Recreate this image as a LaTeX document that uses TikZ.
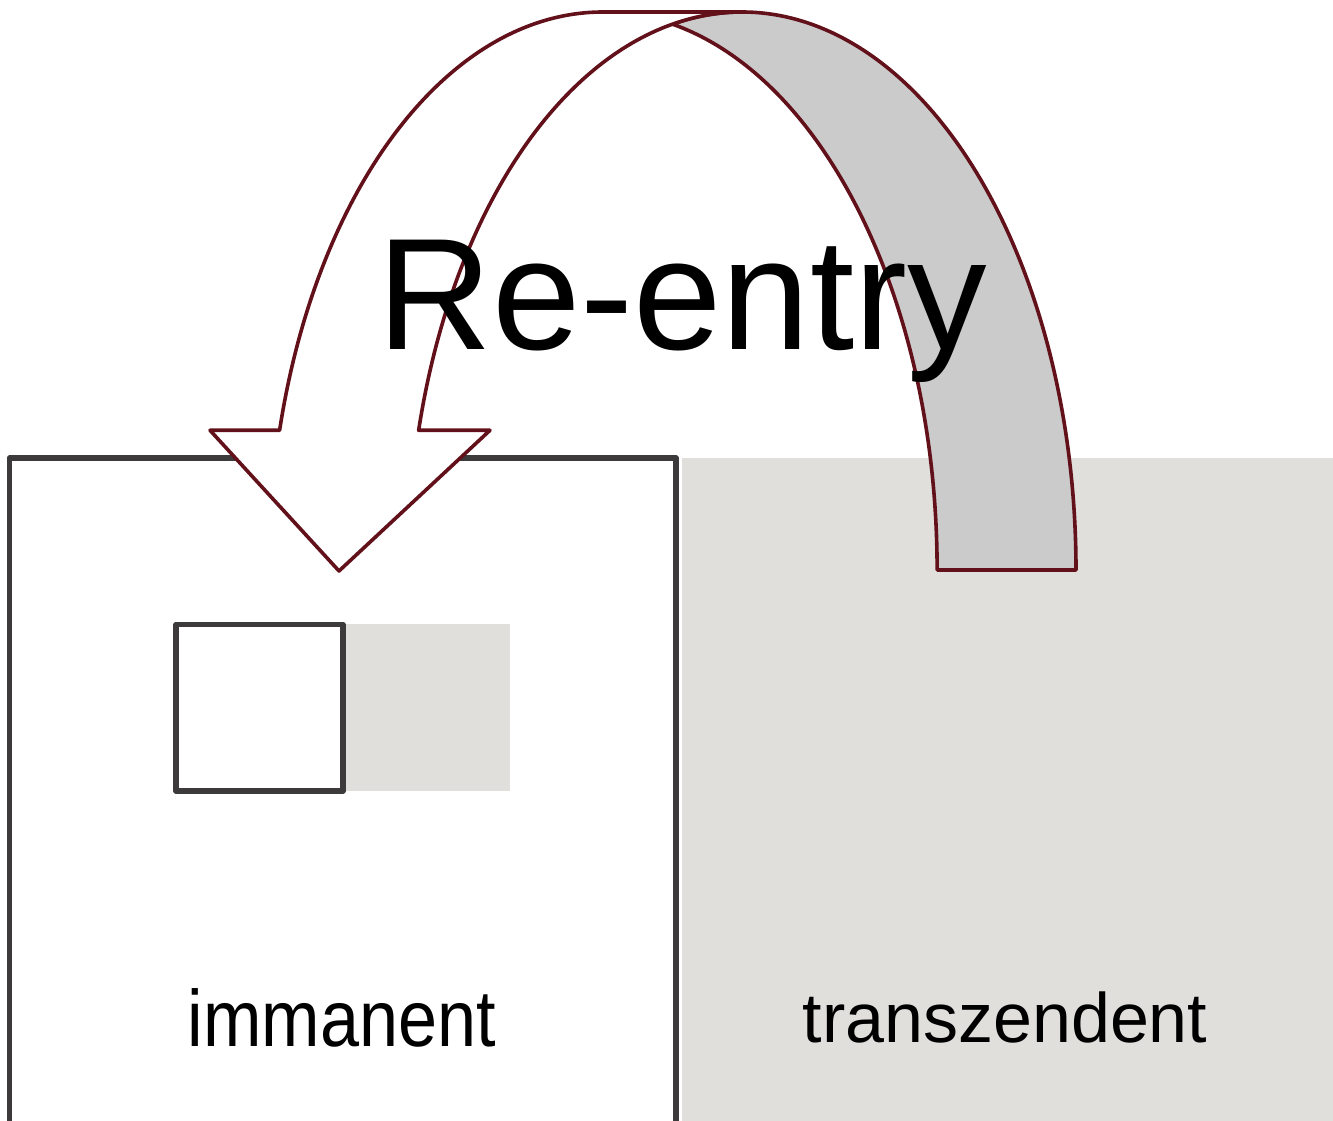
\documentclass[tikz,border=0pt]{standalone}
\usepackage{fontspec}
\setmainfont{Liberation Sans}
\definecolor{arrowline}{RGB}{98,17,26}
\definecolor{boxline}{RGB}{60,58,59}
\definecolor{paneGray}{RGB}{224,223,220}
\definecolor{tailGray}{RGB}{203,203,203}
\begin{document}
\begin{tikzpicture}[x=1pt,y=1pt,
  frame/.style={draw=boxline, line width=5.5pt, line join=round},
  arrowpart/.style={draw=arrowline, line width=3.6pt, line join=round},
  label/.style={anchor=base, inner sep=0pt, text=black}]
\useasboundingbox (0,0) rectangle (1333,1120);
\clip (0,0) rectangle (1333,1120);
% panes
\fill[paneGray] (682,-10) rectangle (1345,662);
\draw[frame, fill=white] (9.5,-30) rectangle (676,662);
% small squares
\fill[paneGray] (343,329) rectangle (510,495.5);
\draw[frame] (176,329) rectangle (343,495.5);
% tail of the curved arrow (back face)
\draw[arrowpart, fill=tailGray] (1076,550)
  arc[start angle=0, end angle=102, x radius=334pt, y radius=558pt]
  arc[start angle=78, end angle=0, x radius=334pt, y radius=558pt] -- cycle;
% head of the curved arrow (front face)
\draw[arrowpart, fill=white] (279.6,689.7)
  arc[start angle=165.5, end angle=90, x radius=334pt, y radius=558pt]
  -- (742,1108)
  arc[start angle=90, end angle=165.5, x radius=334pt, y radius=558pt]
  -- (490,689.7) -- (339,549) -- (210,689.7) -- cycle;
% texts
\node[anchor=base west, inner sep=0pt, font=\fontsize{159}{170}\selectfont] (title) at (377,770) {Re-entry};
\node[label, font=\fontsize{80}{90}\selectfont] (imm) at (342,74) {\scalebox{0.877}[1]{immanent}};
\node[label, font=\fontsize{70}{80}\selectfont] (trans) at (1005,78) {transzendent};
\end{tikzpicture}
\end{document}
